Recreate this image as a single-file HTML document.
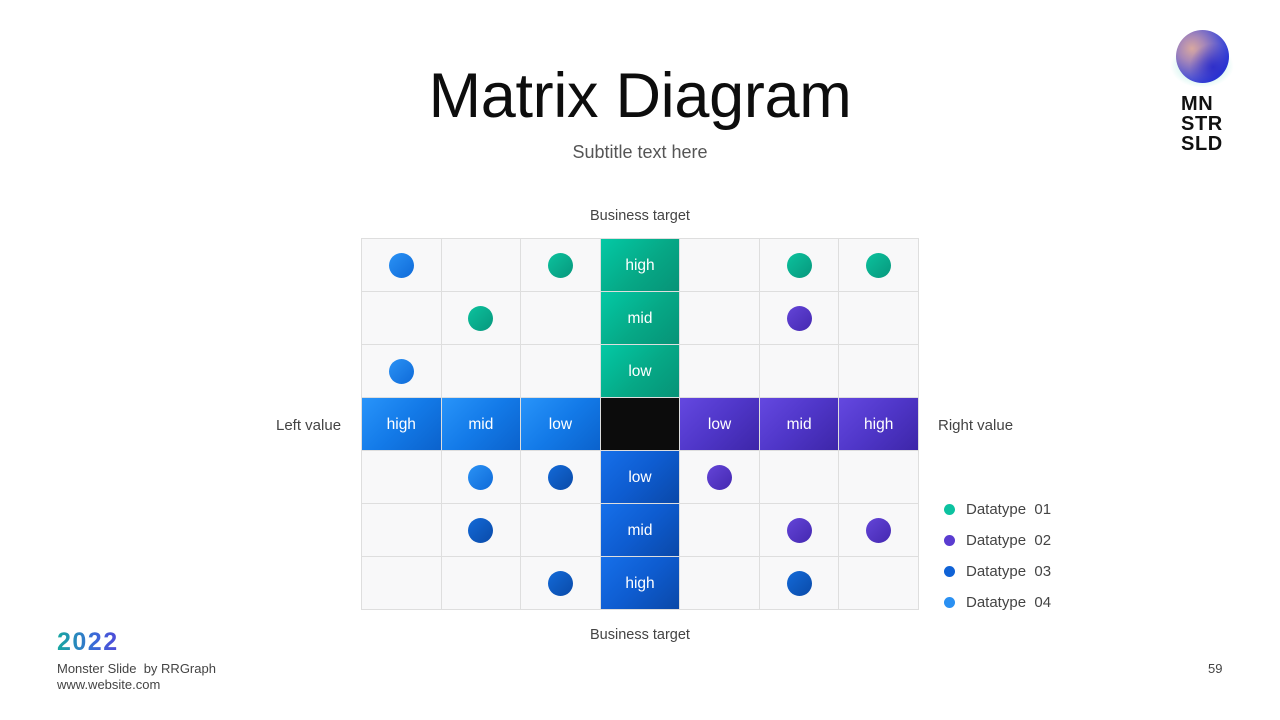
<!DOCTYPE html>
<html>
<head>
<meta charset="utf-8">
<style>
  html,body{margin:0;padding:0;}
  body{width:1280px;height:720px;background:#fff;position:relative;overflow:hidden;font-family:"Liberation Sans",sans-serif;}
  .abs{position:absolute;}
  .title{left:0;width:1280px;top:58px;text-align:center;font-size:63px;color:#0d0d0d;letter-spacing:-0.3px;line-height:76px;}
  .sub{left:0;width:1280px;top:141px;text-align:center;font-size:18px;color:#555;line-height:22px;}
  .lbl{font-size:14.5px;color:#444;line-height:18px;}
  .grid{left:361px;top:238px;width:558px;height:372px;background:#dedede;display:grid;
    grid-template-columns:repeat(7,1fr);grid-template-rows:repeat(7,1fr);gap:1px;padding:1px;box-sizing:border-box;}
  .c{background:#f8f8f9;position:relative;display:flex;align-items:center;justify-content:center;color:#fff;font-size:15.5px;padding-top:2px;box-sizing:border-box;}
  .t{background:linear-gradient(135deg,#03c9a5 0%,#06a886 55%,#079377 100%);}
  .lb{background:linear-gradient(135deg,#2894fa 0%,#137ae8 50%,#0b62cc 100%);}
  .pu{background:linear-gradient(135deg,#6448e0 0%,#4f36c8 50%,#3d26a8 100%);}
  .db{background:linear-gradient(135deg,#1670ea 0%,#0e5cd0 50%,#0a48a8 100%);}
  .k{background:#0c0c0c;}
  .d{width:25px;height:25px;border-radius:50%;margin-top:-2px;}
  .dt{background:linear-gradient(135deg,#0cc29e,#07977c);}
  .dp{background:linear-gradient(135deg,#6445d8,#4428b0);}
  .dd{background:linear-gradient(135deg,#136ad8,#0a4aa8);}
  .dl{background:linear-gradient(135deg,#2a92f5,#0f6ad8);}
  .leg{left:944px;font-size:15px;color:#444;line-height:18px;}
  .leg span.dot{position:absolute;left:0;top:3px;width:11px;height:11px;border-radius:50%;}
  .leg span.tx{position:absolute;left:22px;top:0;white-space:nowrap;}
</style>
</head>
<body>
  <div class="abs title">Matrix Diagram</div>
  <div class="abs sub">Subtitle text here</div>

  <!-- logo -->
  <div class="abs" style="left:1170px;top:44px;width:64px;height:44px;border-radius:50%;background:radial-gradient(ellipse at center,rgba(20,200,170,0.45),rgba(255,255,255,0) 70%);"></div>
  <div class="abs" style="left:1176px;top:30px;width:53px;height:53px;border-radius:50%;
    background:radial-gradient(circle at 30% 35%,#d8a8a0 0%,#a888b8 25%,#5a5ad0 55%,#2a3ad8 75%,#1a88e0 100%);"></div>
  <div class="abs" style="left:1176px;top:30px;width:53px;height:53px;border-radius:50%;
    background:radial-gradient(circle at 70% 70%,rgba(40,40,200,0.85) 0%,rgba(40,40,210,0) 45%);"></div>
  <div class="abs" style="left:1181px;top:94px;font-size:20px;font-weight:bold;line-height:20px;color:#111;letter-spacing:0.6px;">MN<br>STR<br>SLD</div>

  <div class="abs lbl" style="left:0;width:1280px;text-align:center;top:207px;">Business target</div>
  <div class="abs lbl" style="left:0;width:1280px;text-align:center;top:626px;">Business target</div>
  <div class="abs lbl" style="left:276px;top:417px;font-size:15px;">Left value</div>
  <div class="abs lbl" style="left:938px;top:417px;font-size:15px;">Right value</div>

  <div class="abs grid">
    <!-- row 0 -->
    <div class="c"><div class="d dl"></div></div>
    <div class="c"></div>
    <div class="c"><div class="d dt"></div></div>
    <div class="c t">high</div>
    <div class="c"></div>
    <div class="c"><div class="d dt"></div></div>
    <div class="c"><div class="d dt"></div></div>
    <!-- row 1 -->
    <div class="c"></div>
    <div class="c"><div class="d dt"></div></div>
    <div class="c"></div>
    <div class="c t">mid</div>
    <div class="c"></div>
    <div class="c"><div class="d dp"></div></div>
    <div class="c"></div>
    <!-- row 2 -->
    <div class="c"><div class="d dl"></div></div>
    <div class="c"></div>
    <div class="c"></div>
    <div class="c t">low</div>
    <div class="c"></div>
    <div class="c"></div>
    <div class="c"></div>
    <!-- row 3 -->
    <div class="c lb">high</div>
    <div class="c lb">mid</div>
    <div class="c lb">low</div>
    <div class="c k"></div>
    <div class="c pu">low</div>
    <div class="c pu">mid</div>
    <div class="c pu">high</div>
    <!-- row 4 -->
    <div class="c"></div>
    <div class="c"><div class="d dl"></div></div>
    <div class="c"><div class="d dd"></div></div>
    <div class="c db">low</div>
    <div class="c"><div class="d dp"></div></div>
    <div class="c"></div>
    <div class="c"></div>
    <!-- row 5 -->
    <div class="c"></div>
    <div class="c"><div class="d dd"></div></div>
    <div class="c"></div>
    <div class="c db">mid</div>
    <div class="c"></div>
    <div class="c"><div class="d dp"></div></div>
    <div class="c"><div class="d dp"></div></div>
    <!-- row 6 -->
    <div class="c"></div>
    <div class="c"></div>
    <div class="c"><div class="d dd"></div></div>
    <div class="c db">high</div>
    <div class="c"></div>
    <div class="c"><div class="d dd"></div></div>
    <div class="c"></div>
  </div>

  <!-- legend -->
  <div class="abs leg" style="top:501px;"><span class="dot" style="background:#0cc2a0;"></span><span class="tx">Datatype&nbsp; 01</span></div>
  <div class="abs leg" style="top:532px;"><span class="dot" style="background:#5a3cd0;"></span><span class="tx">Datatype&nbsp; 02</span></div>
  <div class="abs leg" style="top:563px;"><span class="dot" style="background:#0f62d6;"></span><span class="tx">Datatype&nbsp; 03</span></div>
  <div class="abs leg" style="top:594px;"><span class="dot" style="background:#2a90f2;"></span><span class="tx">Datatype&nbsp; 04</span></div>

  <!-- footer -->
  <div class="abs" style="left:57px;top:629px;font-size:25px;font-weight:bold;line-height:26px;letter-spacing:1.5px;
    background:linear-gradient(90deg,#17a8a0 0%,#3a6ad8 60%,#5048d8 100%);-webkit-background-clip:text;background-clip:text;color:transparent;">2022</div>
  <div class="abs" style="left:57px;top:661px;font-size:13px;color:#444;line-height:16px;">Monster Slide&nbsp; by RRGraph<br>www.website.com</div>
  <div class="abs" style="left:1208px;top:661px;font-size:13px;color:#444;line-height:16px;">59</div>
</body>
</html>
